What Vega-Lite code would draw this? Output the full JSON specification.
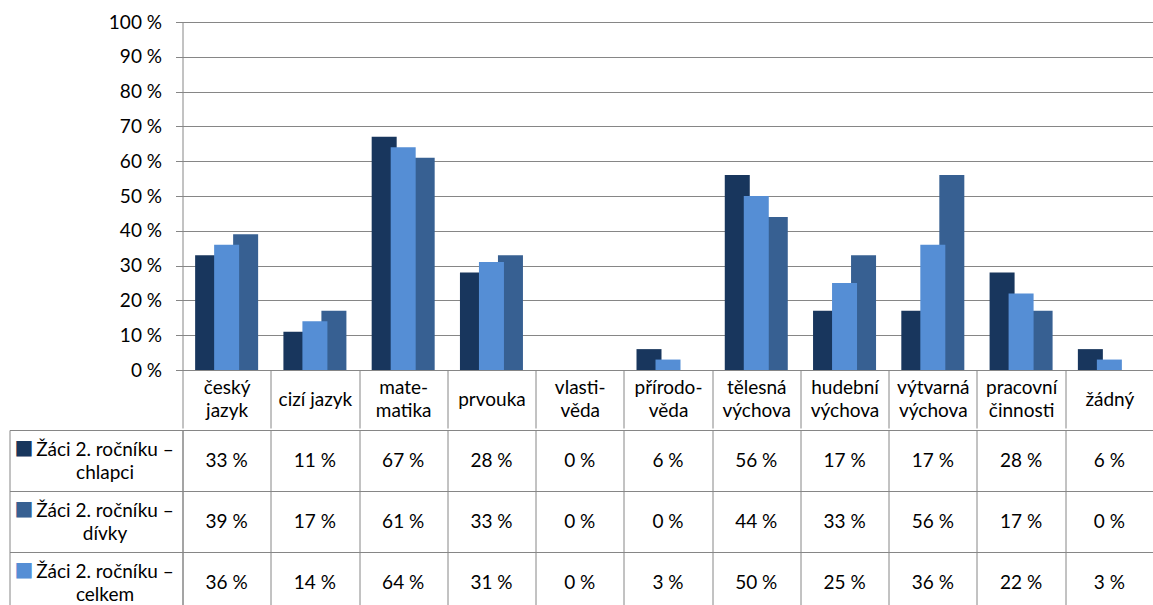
{
  "$schema": "https://vega.github.io/schema/vega-lite/v6.json",
  "background": "white",
  "padding": {"left": 8.5, "top": 13, "right": 0, "bottom": 0},
  "config": {
    "font": "Lato",
    "view": {"stroke": null},
    "axis": {"labelFont": "Lato", "labelFontSize": 19, "labelColor": "#000000", "domainColor": "#868686", "tickColor": "#868686", "gridColor": "#868686", "domainWidth": 1, "tickWidth": 1, "gridWidth": 1}
  },
  "data": {
    "values": [
      {"category": "český jazyk", "series": "Žáci 2. ročníku – chlapci", "value": 33},
      {"category": "cizí jazyk", "series": "Žáci 2. ročníku – chlapci", "value": 11},
      {"category": "matematika", "series": "Žáci 2. ročníku – chlapci", "value": 67},
      {"category": "prvouka", "series": "Žáci 2. ročníku – chlapci", "value": 28},
      {"category": "vlastivěda", "series": "Žáci 2. ročníku – chlapci", "value": 0},
      {"category": "přírodověda", "series": "Žáci 2. ročníku – chlapci", "value": 6},
      {"category": "tělesná výchova", "series": "Žáci 2. ročníku – chlapci", "value": 56},
      {"category": "hudební výchova", "series": "Žáci 2. ročníku – chlapci", "value": 17},
      {"category": "výtvarná výchova", "series": "Žáci 2. ročníku – chlapci", "value": 17},
      {"category": "pracovní činnosti", "series": "Žáci 2. ročníku – chlapci", "value": 28},
      {"category": "žádný", "series": "Žáci 2. ročníku – chlapci", "value": 6},
      {"category": "český jazyk", "series": "Žáci 2. ročníku – dívky", "value": 39},
      {"category": "cizí jazyk", "series": "Žáci 2. ročníku – dívky", "value": 17},
      {"category": "matematika", "series": "Žáci 2. ročníku – dívky", "value": 61},
      {"category": "prvouka", "series": "Žáci 2. ročníku – dívky", "value": 33},
      {"category": "vlastivěda", "series": "Žáci 2. ročníku – dívky", "value": 0},
      {"category": "přírodověda", "series": "Žáci 2. ročníku – dívky", "value": 0},
      {"category": "tělesná výchova", "series": "Žáci 2. ročníku – dívky", "value": 44},
      {"category": "hudební výchova", "series": "Žáci 2. ročníku – dívky", "value": 33},
      {"category": "výtvarná výchova", "series": "Žáci 2. ročníku – dívky", "value": 56},
      {"category": "pracovní činnosti", "series": "Žáci 2. ročníku – dívky", "value": 17},
      {"category": "žádný", "series": "Žáci 2. ročníku – dívky", "value": 0},
      {"category": "český jazyk", "series": "Žáci 2. ročníku – celkem", "value": 36},
      {"category": "cizí jazyk", "series": "Žáci 2. ročníku – celkem", "value": 14},
      {"category": "matematika", "series": "Žáci 2. ročníku – celkem", "value": 64},
      {"category": "prvouka", "series": "Žáci 2. ročníku – celkem", "value": 31},
      {"category": "vlastivěda", "series": "Žáci 2. ročníku – celkem", "value": 0},
      {"category": "přírodověda", "series": "Žáci 2. ročníku – celkem", "value": 3},
      {"category": "tělesná výchova", "series": "Žáci 2. ročníku – celkem", "value": 50},
      {"category": "hudební výchova", "series": "Žáci 2. ročníku – celkem", "value": 25},
      {"category": "výtvarná výchova", "series": "Žáci 2. ročníku – celkem", "value": 36},
      {"category": "pracovní činnosti", "series": "Žáci 2. ročníku – celkem", "value": 22},
      {"category": "žádný", "series": "Žáci 2. ročníku – celkem", "value": 3}
    ]
  },
  "spacing": 0,
  "resolve": {"scale": {"x": "independent", "y": "independent"}},
  "vconcat": [
    {
      "width": 971,
      "height": 348,
      "mark": {"type": "bar", "width": 25},
      "encoding": {
        "x": {
          "field": "category",
          "type": "nominal",
          "scale": {"domain": ["český jazyk", "cizí jazyk", "matematika", "prvouka", "vlastivěda", "přírodověda", "tělesná výchova", "hudební výchova", "výtvarná výchova", "pracovní činnosti", "žádný"], "paddingInner": 0, "paddingOuter": 0},
          "axis": {
            "title": null,
            "labelAngle": 0,
            "tickBand": "extent",
            "tickSize": 58,
            "labelPadding": {"condition": {"test": "datum.label == 'cizí jazyk' || datum.label == 'prvouka' || datum.label == 'žádný'", "value": -29}, "value": -40.5},
            "labelAlign": "center",
            "labelBaseline": "middle",
            "labelLineHeight": 23,
            "labelOverlap": false,
            "labelFlush": false,
            "labelExpr": "datum.label == 'matematika' ? ['mate-','matika'] : datum.label == 'vlastivěda' ? ['vlasti-','věda'] : datum.label == 'přírodověda' ? ['přírodo-','věda'] : datum.label == 'cizí jazyk' ? 'cizí jazyk' : split(datum.label, ' ')"
          }
        },
        "xOffset": {
          "field": "series",
          "type": "nominal",
          "sort": ["Žáci 2. ročníku – chlapci", "Žáci 2. ročníku – celkem", "Žáci 2. ročníku – dívky"],
          "scale": {"paddingInner": 0, "paddingOuter": 0.823}
        },
        "y": {
          "field": "value",
          "type": "quantitative",
          "stack": null,
          "scale": {"domain": [0, 100]},
          "axis": {
            "title": null,
            "values": [0, 10, 20, 30, 40, 50, 60, 70, 80, 90, 100],
            "labelExpr": "datum.value + ' %'",
            "grid": true,
            "tickSize": 7,
            "labelPadding": 14
          }
        },
        "color": {
          "field": "series",
          "type": "nominal",
          "scale": {"domain": ["Žáci 2. ročníku – chlapci", "Žáci 2. ročníku – dívky", "Žáci 2. ročníku – celkem"], "range": ["#18365D", "#376092", "#558ED5"]},
          "legend": null
        }
      }
    },
    {
      "width": 971,
      "height": 183,
      "resolve": {"axis": {"y": "independent"}},
      "layer": [
        {
          "mark": {"type": "text", "fontSize": 19, "color": "#000000", "baseline": "middle", "text": {"expr": "datum.value + ' %'"}},
          "encoding": {
            "x": {
              "field": "category",
              "type": "nominal",
              "scale": {"domain": ["český jazyk", "cizí jazyk", "matematika", "prvouka", "vlastivěda", "přírodověda", "tělesná výchova", "hudební výchova", "výtvarná výchova", "pracovní činnosti", "žádný"], "paddingInner": 0, "paddingOuter": 0},
              "axis": {"title": null, "labels": false, "ticks": false, "domain": false, "grid": true, "tickBand": "extent"}
            },
            "y": {
              "field": "series",
              "type": "nominal",
              "scale": {"domain": ["Žáci 2. ročníku – chlapci", "Žáci 2. ročníku – dívky", "Žáci 2. ročníku – celkem"], "paddingInner": 0, "paddingOuter": 0},
              "axis": {
                "title": null,
                "grid": true,
                "tickBand": "extent",
                "tickSize": 173,
                "labelPadding": -95,
                "labelAlign": "center",
                "labelBaseline": "middle",
                "labelOffset": -11.5,
                "labelLineHeight": 23,
                "labelFontSize": {"condition": {"test": "indexof(datum.label + '', 'Žáci') >= 0", "value": 19}, "value": 0},
                "labelExpr": "indexof(datum.label + '', 'Žáci') >= 0 ? ['Žáci 2. ročníku –', replace(datum.label, 'Žáci 2. ročníku – ', '')] : ''"
              }
            }
          }
        },
        {
          "transform": [{"filter": "datum.category == 'český jazyk'"}],
          "mark": {"type": "text", "text": "■", "font": "DejaVu Sans", "fontSize": 20, "dx": -158.5, "dy": -13, "baseline": "middle", "align": "center"},
          "encoding": {
            "x": {"datum": "český jazyk", "type": "nominal", "bandPosition": 0},
            "y": {
              "field": "series",
              "type": "nominal",
              "axis": {"title": null, "orient": "left", "offset": 173, "labels": false, "ticks": false, "grid": false, "domain": true}
            },
            "color": {"field": "series", "type": "nominal", "legend": null}
          }
        }
      ]
    }
  ]
}
